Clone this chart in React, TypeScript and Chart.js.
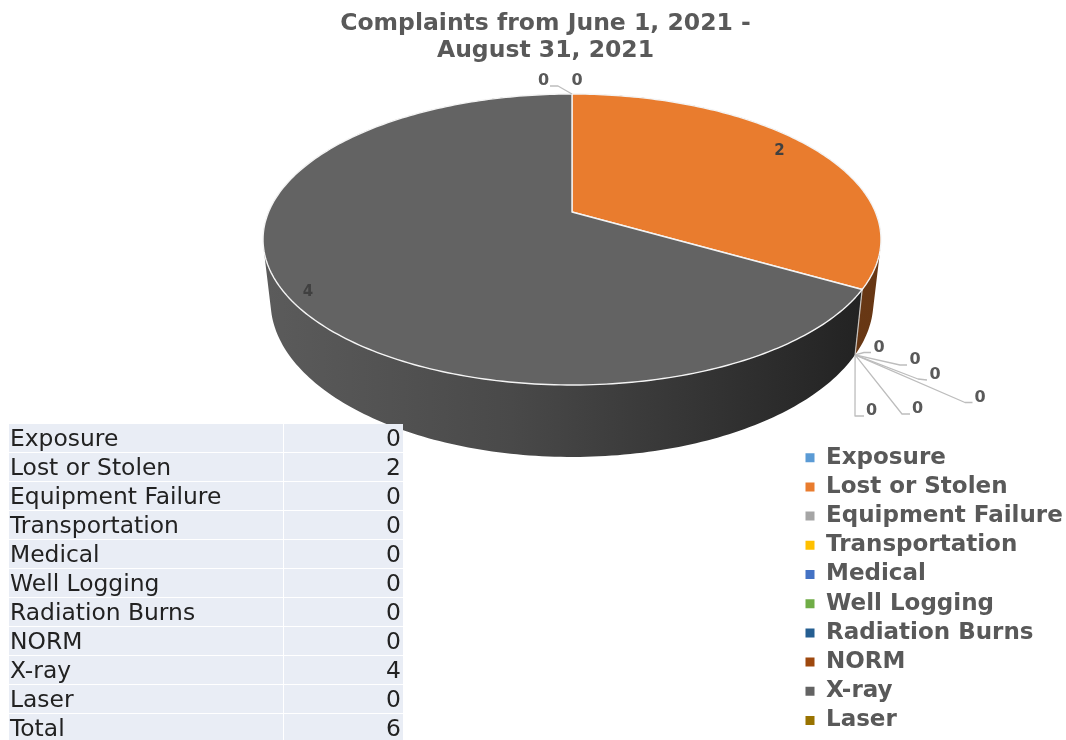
import React, { useEffect, useRef } from "react";
import { Chart, registerables } from "chart.js";

Chart.register(...registerables);

const titleLines = ["Complaints from June 1, 2021 -", "August 31, 2021"];
const categories = ["Exposure", "Lost or Stolen", "Equipment Failure", "Transportation", "Medical", "Well Logging", "Radiation Burns", "NORM", "X-ray", "Laser"];
const complaintCounts = [0, 2, 0, 0, 0, 0, 0, 0, 4, 0];
const totalLabel = "Total";
const totalCount = 6;
const sliceColors = ["#5B9BD5", "#E97C2E", "#A5A5A5", "#FFC000", "#4472C4", "#70AD47", "#255E91", "#9E480E", "#636363", "#997300"];

const FONT = "'DejaVu Sans', Verdana, sans-serif";
const TEXT = "#595959";

// Perspective of the tilted pie: top face and bottom face of the drum
const topPlane = { a: 303.4, b: 140.3, k: 0.189, dy: 0 };
const bottomPlane = { a: 296, b: 150, k: 0.189, dy: 60 };

// Where each value label sits, in the order of the categories
const labelPlacement = [
  { x: 577, y: 81 },
  { x: 779.5, y: 151 },
  { x: 879, y: 348 },
  { x: 915, y: 360 },
  { x: 935, y: 375 },
  { x: 980, y: 397.5 },
  { x: 917.5, y: 408.5 },
  { x: 871.5, y: 410.5 },
  { x: 308, y: 292 },
  { x: 543.5, y: 81 },
];
// Leader lines (elbow, end), null where a label has none
const leaderPlacement: (number[][] | null)[] = [
  null,
  null,
  [[864, 352.5], [871, 352.5]],
  [[900, 365], [907, 365]],
  [[918, 379], [927, 380]],
  [[965, 402.5], [972.5, 402.5]],
  [[902, 414], [910, 414]],
  [[855, 416], [864, 416]],
  null,
  [[558, 86], [550, 86]],
];

function project(cx: number, cy: number, angle: number, t: number, p: typeof topPlane) {
  const u = Math.cos(angle) * t;
  const v = Math.sin(angle) * t;
  const d = 1 - p.k * v;
  return { x: cx + (p.a * u) / d, y: cy + p.dy + (p.b * v) / d };
}

function shade(hex: string, f: number) {
  const n = parseInt(hex.slice(1), 16);
  const c = [(n >> 16) & 255, (n >> 8) & 255, n & 255].map((x) => Math.round(x * f));
  return `rgb(${c[0]},${c[1]},${c[2]})`;
}

const pie3d = {
  id: "pie3d",
  beforeDraw(chart: any) {
    const legend = chart.legend;
    legend.left = 799.3;
    legend.right = 1066;
    legend.width = 266.7;
    legend.top = 440;
    legend.bottom = 740;
    legend.height = 300;
    const title = chart.titleBlock;
    title.left = 0;
    title.right = 1091;
    title.top = 2;
  },
  beforeDatasetsDraw(chart: any) {
    const ctx = chart.ctx;
    const arcs = chart.getDatasetMeta(0).data;
    const live = arcs.filter((_: any, i: number) => complaintCounts[i] > 0);
    const cx = arcs[0].x;
    const cy = arcs[0].y;
    const step = Math.PI / 180;

    const rim = (arc: any, plane: typeof topPlane) => {
      const pts = [];
      const n = Math.max(1, Math.ceil((arc.endAngle - arc.startAngle) / step));
      for (let i = 0; i <= n; i++) {
        pts.push(project(cx, cy, arc.startAngle + ((arc.endAngle - arc.startAngle) * i) / n, 1, plane));
      }
      return pts;
    };

    // Walls: the union of narrow bands, all wound the same way
    live.forEach((arc: any) => {
      const color = arc.options.backgroundColor;
      const top = rim(arc, topPlane);
      const bottom = rim(arc, bottomPlane);
      const g = ctx.createLinearGradient(cx - topPlane.a, 0, cx + topPlane.a, 0);
      const isGrey = color === "#636363";
      g.addColorStop(0, shade(color, isGrey ? 0.92 : 0.52));
      g.addColorStop(0.4, shade(color, isGrey ? 0.74 : 0.52));
      g.addColorStop(1, shade(color, isGrey ? 0.33 : 0.44));
      ctx.fillStyle = g;
      ctx.beginPath();
      for (let i = 0; i < top.length - 1; i++) {
        const q = [top[i], top[i + 1], bottom[i + 1], bottom[i]];
        let area = 0;
        q.forEach((p, j) => {
          const r = q[(j + 1) % 4];
          area += p.x * r.y - r.x * p.y;
        });
        const path = area < 0 ? q.slice().reverse() : q;
        ctx.moveTo(path[0].x, path[0].y);
        path.slice(1).forEach((p) => ctx.lineTo(p.x, p.y));
        ctx.closePath();
      }
      ctx.fill();
    });

    // Edge between the walls
    live.forEach((arc: any) => {
      if (Math.sin(arc.startAngle) > 0) {
        const a = project(cx, cy, arc.startAngle, 1, topPlane);
        const b = project(cx, cy, arc.startAngle, 1, bottomPlane);
        ctx.beginPath();
        ctx.moveTo(a.x, a.y);
        ctx.lineTo(b.x, b.y);
        ctx.strokeStyle = "#c9c4bf";
        ctx.lineWidth = 1.2;
        ctx.stroke();
      }
    });

    // Faces
    live.forEach((arc: any) => {
      const top = rim(arc, topPlane);
      const c = project(cx, cy, 0, 0, topPlane);
      ctx.beginPath();
      ctx.moveTo(c.x, c.y);
      top.forEach((p: any) => ctx.lineTo(p.x, p.y));
      ctx.closePath();
      ctx.fillStyle = arc.options.backgroundColor;
      ctx.fill();
      ctx.strokeStyle = "#f4f4f4";
      ctx.lineWidth = 1.4;
      ctx.lineJoin = "round";
      ctx.stroke();
    });

    // Leaders and labels
    arcs.forEach((arc: any, i: number) => {
      const leader = leaderPlacement[i];
      if (leader) {
        const plane = Math.sin(arc.startAngle) > 0 ? bottomPlane : topPlane;
        const a = project(cx, cy, arc.startAngle, 1, plane);
        ctx.beginPath();
        ctx.moveTo(a.x, a.y);
        leader.forEach((p) => ctx.lineTo(p[0], p[1]));
        ctx.strokeStyle = "#bdbdbd";
        ctx.lineWidth = 1.3;
        ctx.stroke();
      }
      const isSlice = complaintCounts[i] > 0;
      ctx.font = `bold ${isSlice ? 15 : 16}px ${FONT}`;
      ctx.fillStyle = isSlice ? "#404040" : "#595959";
      ctx.textAlign = "center";
      ctx.textBaseline = "middle";
      ctx.fillText(String(complaintCounts[i]), labelPlacement[i].x, labelPlacement[i].y);
    });
    return false;
  },
};

export default function App() {
  const ref = useRef<HTMLCanvasElement | null>(null);

  useEffect(() => {
    const chart = new Chart(ref.current as HTMLCanvasElement, {
      type: "pie",
      data: {
        labels: categories,
        datasets: [{ data: complaintCounts, backgroundColor: sliceColors, borderWidth: 0 }],
      },
      options: {
        animation: false,
        responsive: false,
        layout: { padding: { left: 78, right: 0, top: 0, bottom: 378 } },
        plugins: {
          tooltip: { enabled: false },
          title: {
            display: true,
            text: titleLines,
            color: TEXT,
            font: { family: FONT, size: 23.5, weight: "bold", lineHeight: "27px" },
            padding: { top: 8, bottom: 0 },
          },
          legend: {
            position: "chartArea",
            align: "start",
            labels: {
              color: TEXT,
              font: { family: FONT, size: 23, weight: "bold" },
              boxWidth: 9,
              boxHeight: 9,
              padding: 6.2,
            },
          },
        },
      } as any,
      plugins: [pie3d],
    });
    return () => chart.destroy();
  }, []);

  const rows = [...categories.map((c, i) => [c, complaintCounts[i]]), [totalLabel, totalCount]];
  return (
    <div style={{ position: "absolute", left: 0, top: 0, width: 1066, height: 740, overflow: "hidden", background: "#fff" }}>
      <canvas ref={ref} width={1066} height={740} style={{ display: "block" }} />
      <div style={{ position: "absolute", left: 9, top: 424, width: 394, fontFamily: FONT, fontSize: 23.4, color: "#222" }}>
        {rows.map((r) => (
          <div key={String(r[0])} style={{ display: "flex", height: 28, lineHeight: "29px", marginBottom: 1.05 }}>
            <div style={{ width: 274, background: "#E9EDF5", paddingLeft: 1, boxSizing: "border-box", marginRight: 1 }}>{r[0]}</div>
            <div style={{ flex: 1, background: "#E9EDF5", textAlign: "right", paddingRight: 2 }}>{r[1]}</div>
          </div>
        ))}
      </div>
    </div>
  );
}
